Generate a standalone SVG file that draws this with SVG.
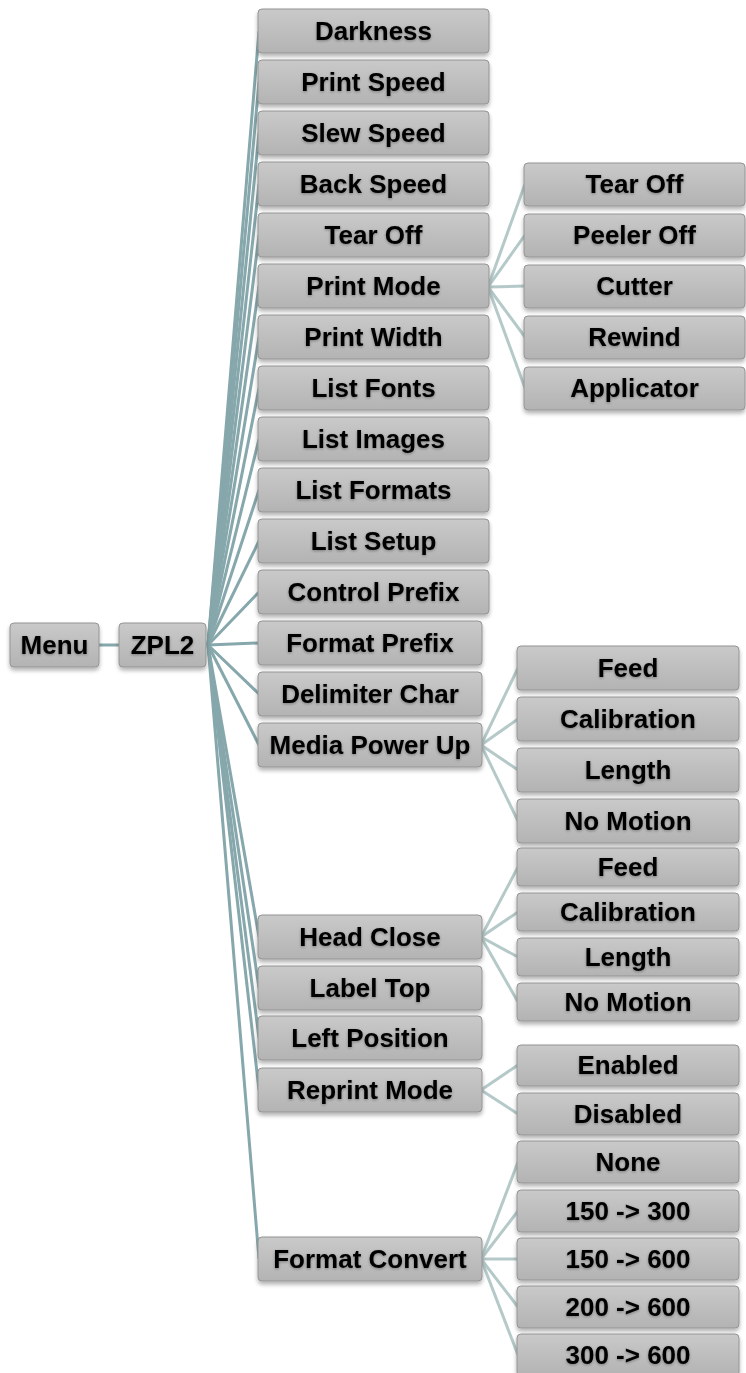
<svg xmlns="http://www.w3.org/2000/svg" width="746" height="1373" viewBox="0 0 746 1373">
<defs>
<linearGradient id="g" x1="0" y1="0" x2="0" y2="1">
<stop offset="0" stop-color="#c9c9c9"/>
<stop offset="1" stop-color="#b3b3b3"/>
</linearGradient>
<filter id="bs" x="-10%" y="-20%" width="120%" height="160%">
<feGaussianBlur in="SourceAlpha" stdDeviation="2"/>
<feOffset dy="3" result="o"/>
<feComponentTransfer><feFuncA type="linear" slope="0.3"/></feComponentTransfer>
<feMerge><feMergeNode/><feMergeNode in="SourceGraphic"/></feMerge>
</filter>
<filter id="ts" x="-10%" y="-30%" width="120%" height="160%">
<feGaussianBlur in="SourceAlpha" stdDeviation="1.5"/>
<feOffset dy="1"/>
<feComponentTransfer><feFuncA type="linear" slope="0.35"/></feComponentTransfer>
<feMerge><feMergeNode/><feMergeNode in="SourceGraphic"/></feMerge>
</filter>
</defs>
<style>
rect.b{fill:url(#g);stroke:#949494;stroke-width:1;filter:url(#bs)}
text{font-family:"Liberation Sans",Arial,sans-serif;font-weight:bold;font-size:26px;fill:#000;text-anchor:middle;filter:url(#ts)}
.main line{stroke:#86a7ab;stroke-width:3}
.sub line{stroke:#b5c9c9;stroke-width:3}
</style>
<rect width="746" height="1373" fill="#fff"/>
<g id="connectors">
<g class="main">
<line x1="99" y1="645" x2="119" y2="645" stroke="#6f9a9f"/>
<line x1="208" y1="645" x2="259" y2="31"/>
<line x1="208" y1="645" x2="259" y2="82"/>
<line x1="208" y1="645" x2="259" y2="133"/>
<line x1="208" y1="645" x2="259" y2="184"/>
<line x1="208" y1="645" x2="259" y2="235"/>
<line x1="208" y1="645" x2="259" y2="286"/>
<line x1="208" y1="645" x2="259" y2="337"/>
<line x1="208" y1="645" x2="259" y2="388"/>
<line x1="208" y1="645" x2="259" y2="439"/>
<line x1="208" y1="645" x2="259" y2="490"/>
<line x1="208" y1="645" x2="259" y2="541"/>
<line x1="208" y1="645" x2="259" y2="592"/>
<line x1="208" y1="645" x2="259" y2="643"/>
<line x1="208" y1="645" x2="259" y2="694"/>
<line x1="208" y1="645" x2="259" y2="745"/>
<line x1="208" y1="645" x2="259" y2="937"/>
<line x1="208" y1="645" x2="259" y2="988"/>
<line x1="208" y1="645" x2="259" y2="1038"/>
<line x1="208" y1="645" x2="259" y2="1090"/>
<line x1="208" y1="645" x2="259" y2="1259"/>
</g>
<g class="sub">
<line x1="488" y1="287" x2="525" y2="184"/>
<line x1="488" y1="287" x2="525" y2="235"/>
<line x1="488" y1="287" x2="525" y2="286"/>
<line x1="488" y1="287" x2="525" y2="337"/>
<line x1="488" y1="287" x2="525" y2="388"/>
<line x1="481" y1="745" x2="518" y2="668"/>
<line x1="481" y1="745" x2="518" y2="719"/>
<line x1="481" y1="745" x2="518" y2="770"/>
<line x1="481" y1="745" x2="518" y2="821"/>
<line x1="481" y1="937" x2="518" y2="867"/>
<line x1="481" y1="937" x2="518" y2="912"/>
<line x1="481" y1="937" x2="518" y2="957"/>
<line x1="481" y1="937" x2="518" y2="1002"/>
<line x1="481" y1="1090" x2="518" y2="1065"/>
<line x1="481" y1="1090" x2="518" y2="1114"/>
<line x1="481" y1="1259" x2="518" y2="1162"/>
<line x1="481" y1="1259" x2="518" y2="1211"/>
<line x1="481" y1="1259" x2="518" y2="1259"/>
<line x1="481" y1="1259" x2="518" y2="1307"/>
<line x1="481" y1="1259" x2="518" y2="1355"/>
</g>
</g>
<g id="menu"><rect class="b" x="10" y="623" width="89" height="44" rx="4"/><text x="54.5" y="654">Menu</text></g>
<g id="zpl2"><rect class="b" x="119" y="623" width="87" height="44" rx="4"/><text x="162.5" y="654">ZPL2</text></g>

<g id="darkness"><rect class="b" x="258" y="9" width="231" height="44" rx="4"/><text x="373.5" y="40">Darkness</text></g>
<g id="print-speed"><rect class="b" x="258" y="60" width="231" height="44" rx="4"/><text x="373.5" y="91">Print Speed</text></g>
<g id="slew-speed"><rect class="b" x="258" y="111" width="231" height="44" rx="4"/><text x="373.5" y="142">Slew Speed</text></g>
<g id="back-speed"><rect class="b" x="258" y="162" width="231" height="44" rx="4"/><text x="373.5" y="193">Back Speed</text></g>
<g id="tear-off"><rect class="b" x="258" y="213" width="231" height="44" rx="4"/><text x="373.5" y="244">Tear Off</text></g>
<g id="print-mode"><rect class="b" x="258" y="264" width="231" height="44" rx="4"/><text x="373.5" y="295">Print Mode</text></g>
<g id="print-width"><rect class="b" x="258" y="315" width="231" height="44" rx="4"/><text x="373.5" y="346">Print Width</text></g>
<g id="list-fonts"><rect class="b" x="258" y="366" width="231" height="44" rx="4"/><text x="373.5" y="397">List Fonts</text></g>
<g id="list-images"><rect class="b" x="258" y="417" width="231" height="44" rx="4"/><text x="373.5" y="448">List Images</text></g>
<g id="list-formats"><rect class="b" x="258" y="468" width="231" height="44" rx="4"/><text x="373.5" y="499">List Formats</text></g>
<g id="list-setup"><rect class="b" x="258" y="519" width="231" height="44" rx="4"/><text x="373.5" y="550">List Setup</text></g>
<g id="control-prefix"><rect class="b" x="258" y="570" width="231" height="44" rx="4"/><text x="373.5" y="601">Control Prefix</text></g>
<g id="format-prefix"><rect class="b" x="258" y="621" width="224" height="44" rx="4"/><text x="370" y="652">Format Prefix</text></g>
<g id="delimiter-char"><rect class="b" x="258" y="672" width="224" height="44" rx="4"/><text x="370" y="703">Delimiter Char</text></g>
<g id="media-power-up"><rect class="b" x="258" y="723" width="224" height="44" rx="4"/><text x="370" y="754">Media Power Up</text></g>
<g id="head-close"><rect class="b" x="258" y="915" width="224" height="44" rx="4"/><text x="370" y="946">Head Close</text></g>
<g id="label-top"><rect class="b" x="258" y="966" width="224" height="44" rx="4"/><text x="370" y="997">Label Top</text></g>
<g id="left-position"><rect class="b" x="258" y="1016" width="224" height="44" rx="4"/><text x="370" y="1047">Left Position</text></g>
<g id="reprint-mode"><rect class="b" x="258" y="1068" width="224" height="44" rx="4"/><text x="370" y="1099">Reprint Mode</text></g>
<g id="format-convert"><rect class="b" x="258" y="1237" width="224" height="44" rx="4"/><text x="370" y="1268">Format Convert</text></g>

<g id="pm-tear-off"><rect class="b" x="524" y="163" width="221" height="43" rx="4"/><text x="634.5" y="193">Tear Off</text></g>
<g id="pm-peeler-off"><rect class="b" x="524" y="214" width="221" height="43" rx="4"/><text x="634.5" y="244">Peeler Off</text></g>
<g id="pm-cutter"><rect class="b" x="524" y="265" width="221" height="43" rx="4"/><text x="634.5" y="295">Cutter</text></g>
<g id="pm-rewind"><rect class="b" x="524" y="316" width="221" height="43" rx="4"/><text x="634.5" y="346">Rewind</text></g>
<g id="pm-applicator"><rect class="b" x="524" y="367" width="221" height="43" rx="4"/><text x="634.5" y="397">Applicator</text></g>

<g id="mp-feed"><rect class="b" x="517" y="646" width="222" height="44" rx="4"/><text x="628" y="677">Feed</text></g>
<g id="mp-calibration"><rect class="b" x="517" y="697" width="222" height="44" rx="4"/><text x="628" y="728">Calibration</text></g>
<g id="mp-length"><rect class="b" x="517" y="748" width="222" height="44" rx="4"/><text x="628" y="779">Length</text></g>
<g id="mp-no-motion"><rect class="b" x="517" y="799" width="222" height="44" rx="4"/><text x="628" y="830">No Motion</text></g>

<g id="hc-feed"><rect class="b" x="517" y="848" width="222" height="38" rx="4"/><text x="628" y="876">Feed</text></g>
<g id="hc-calibration"><rect class="b" x="517" y="893" width="222" height="38" rx="4"/><text x="628" y="921">Calibration</text></g>
<g id="hc-length"><rect class="b" x="517" y="938" width="222" height="38" rx="4"/><text x="628" y="966">Length</text></g>
<g id="hc-no-motion"><rect class="b" x="517" y="983" width="222" height="38" rx="4"/><text x="628" y="1011">No Motion</text></g>

<g id="rm-enabled"><rect class="b" x="517" y="1045" width="222" height="41" rx="4"/><text x="628" y="1074">Enabled</text></g>
<g id="rm-disabled"><rect class="b" x="517" y="1093" width="222" height="42" rx="4"/><text x="628" y="1123">Disabled</text></g>

<g id="fc-none"><rect class="b" x="517" y="1141" width="222" height="42" rx="4"/><text x="628" y="1171">None</text></g>
<g id="fc-150-300"><rect class="b" x="517" y="1190" width="222" height="42" rx="4"/><text x="628" y="1220">150 -&gt; 300</text></g>
<g id="fc-150-600"><rect class="b" x="517" y="1238" width="222" height="42" rx="4"/><text x="628" y="1268">150 -&gt; 600</text></g>
<g id="fc-200-600"><rect class="b" x="517" y="1286" width="222" height="42" rx="4"/><text x="628" y="1316">200 -&gt; 600</text></g>
<g id="fc-300-600"><rect class="b" x="517" y="1334" width="222" height="42" rx="4"/><text x="628" y="1364">300 -&gt; 600</text></g>
</svg>
